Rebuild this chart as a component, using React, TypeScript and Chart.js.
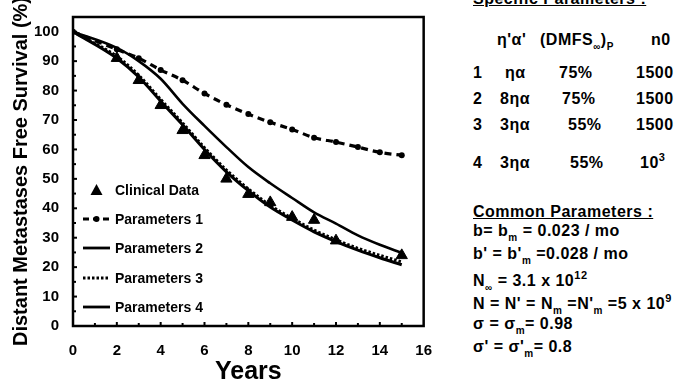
import React, { useEffect, useRef } from "react";
import { Chart, registerables } from "chart.js";

Chart.register(...registerables);

const years = [0, 2, 3, 4, 5, 6, 7, 8, 9, 10, 11, 12, 13, 14, 15];
const clinicalYears = [2, 3, 4, 5, 6, 7, 8, 9, 10, 11, 12, 15];
const clinicalData = [91, 83.5, 75, 66.5, 58, 50, 44.8, 42, 37, 36, 29, 24];
const params1 = [100, 94, 91, 87, 83.5, 79, 75.2, 72, 69.2, 66.8, 64, 62.5, 60.8, 59, 58];
const params2 = [100, 94.5, 90, 84, 75.5, 68, 60.8, 54, 48.5, 43.5, 38.6, 34.8, 30.8, 27.6, 24.8];
const params3 = [100, 91.6, 85.2, 77, 69, 60.6, 53, 46.6, 41, 36.6, 32.6, 29.3, 26.4, 24, 21.8];
const params4 = [100, 91, 84.6, 76.4, 68.4, 60, 52.4, 46, 40.4, 36, 32, 28.7, 25.8, 23.2, 20.8];
const legendLabels = ["Clinical Data", "Parameters 1", "Parameters 2", "Parameters 3", "Parameters 4"];
const xTicks = [0, 2, 4, 6, 8, 10, 12, 14, 16];
const yTicks = [0, 10, 20, 30, 40, 50, 60, 70, 80, 90, 100];

const FONT = "'Liberation Sans', Arial, sans-serif";

const pts = (xs: number[], ys: number[]) => xs.map((x, i) => ({ x, y: ys[i] }));

const framePlugin = {
  id: "frame",
  afterDraw(chart: any) {
    const { ctx, scales } = chart;
    const L = scales.x.getPixelForValue(0);
    const R = scales.x.getPixelForValue(16);
    const T = scales.y.getPixelForValue(105);
    const B = scales.y.getPixelForValue(0);
    ctx.save();
    ctx.strokeStyle = "#000";
    ctx.lineWidth = 2.5;
    ctx.setLineDash([]);
    ctx.strokeRect(L, T, R - L, B - T);
    ctx.lineWidth = 2;
    for (let v = 1; v < 16; v++) {
      const px = scales.x.getPixelForValue(v);
      ctx.beginPath();
      ctx.moveTo(px, B);
      ctx.lineTo(px, B - (v % 2 === 0 ? 4 : 3));
      ctx.stroke();
    }
    for (let v = 5; v < 105; v += 5) {
      const py = scales.y.getPixelForValue(v);
      ctx.beginPath();
      ctx.moveTo(L, py);
      ctx.lineTo(L + (v % 10 === 0 ? 4 : 3), py);
      ctx.stroke();
    }
    const lx0 = L + 10;
    const lx1 = L + 37;
    const tx = L + 42;
    const ys = [190, 219, 248, 278, 307];
    ctx.fillStyle = "#000";
    ctx.font = `bold 14px ${FONT}`;
    ctx.textBaseline = "middle";
    ctx.textAlign = "left";
    legendLabels.forEach((lab, i) => {
      const y = ys[i];
      ctx.setLineDash([]);
      if (i === 0) {
        const cx = (lx0 + lx1) / 2;
        ctx.beginPath();
        ctx.moveTo(cx, y - 6);
        ctx.lineTo(cx + 6, y + 5);
        ctx.lineTo(cx - 6, y + 5);
        ctx.closePath();
        ctx.fill();
      } else {
        ctx.lineWidth = i === 1 ? 3 : 2.8;
        if (i === 1) ctx.setLineDash([6, 4]);
        if (i === 3) ctx.setLineDash([2.5, 2]);
        ctx.beginPath();
        ctx.moveTo(lx0, y);
        ctx.lineTo(lx1, y);
        ctx.stroke();
        if (i === 1) {
          ctx.beginPath();
          ctx.arc((lx0 + lx1) / 2, y, 3, 0, Math.PI * 2);
          ctx.fill();
        }
      }
      ctx.fillText(lab, tx, y + 1);
    });
    ctx.restore();
  },
};

function ChartBox() {
  const ref = useRef<HTMLCanvasElement>(null);
  useEffect(() => {
    const chart = new Chart(ref.current!, {
      type: "line",
      data: {
        datasets: [
          {
            label: "Clinical Data",
            data: pts(clinicalYears, clinicalData),
            showLine: false,
            pointStyle: "triangle",
            pointRadius: 6.5,
            backgroundColor: "#000",
            borderColor: "#000",
            borderWidth: 1,
          },
          {
            label: "Parameters 1",
            data: pts(years, params1),
            borderColor: "#000",
            backgroundColor: "#000",
            borderWidth: 3.2,
            borderDash: [7, 5],
            pointRadius: 3,
            pointBorderWidth: 0,
            cubicInterpolationMode: "monotone",
          },
          {
            label: "Parameters 2",
            data: pts(years, params2),
            borderColor: "#000",
            borderWidth: 2.6,
            pointRadius: 0,
            cubicInterpolationMode: "monotone",
          },
          {
            label: "Parameters 3",
            data: pts(years, params3),
            borderColor: "#000",
            borderWidth: 3,
            borderDash: [2.5, 2],
            pointRadius: 0,
            cubicInterpolationMode: "monotone",
          },
          {
            label: "Parameters 4",
            data: pts(years, params4),
            borderColor: "#000",
            borderWidth: 3,
            pointRadius: 0,
            cubicInterpolationMode: "monotone",
          },
        ],
      },
      options: {
        animation: false,
        responsive: false,
        maintainAspectRatio: false,
        layout: { padding: { left: 0, top: 17, right: 16, bottom: 0 } },
        plugins: { legend: { display: false }, tooltip: { enabled: false } },
        scales: {
          x: {
            type: "linear",
            min: 0,
            max: 16,
            afterBuildTicks: (s: any) => {
              s.ticks = xTicks.map((v) => ({ value: v }));
            },
            afterFit: (s: any) => {
              s.height = 62;
            },
            grid: { display: false },
            border: { display: false },
            ticks: {
              color: "#000",
              font: { family: FONT, size: 15, weight: "bold" },
              padding: 8,
              maxRotation: 0,
            },
            title: {
              display: true,
              text: "Years",
              color: "#000",
              font: { family: FONT, size: 25, weight: "bold" },
              padding: { top: 0, bottom: 1 },
            },
          },
          y: {
            type: "linear",
            min: 0,
            max: 105,
            afterBuildTicks: (s: any) => {
              s.ticks = yTicks.map((v) => ({ value: v }));
            },
            afterFit: (s: any) => {
              s.width = 73;
            },
            grid: { display: false },
            border: { display: false },
            ticks: {
              color: "#000",
              font: { family: FONT, size: 15, weight: "bold" },
              padding: 6,
            },
            title: {
              display: true,
              text: "Distant Metastases Free Survival (%)",
              color: "#000",
              font: { family: FONT, size: 20, weight: "bold" },
              padding: { top: 9, bottom: 0 },
            },
          },
        },
      },
      plugins: [framePlugin],
    } as any);
    return () => chart.destroy();
  }, []);
  return <canvas ref={ref} width={440} height={388} style={{ position: "absolute", left: 0, top: 0 }} />;
}

const txt: React.CSSProperties = {
  position: "absolute",
  fontFamily: FONT,
  fontWeight: "bold",
  fontSize: 16,
  letterSpacing: 0.5,
  lineHeight: "18px",
  whiteSpace: "nowrap",
  color: "#000",
};

const Sub = ({ children }: { children: React.ReactNode }) => (
  <span style={{ fontSize: 10, position: "relative", top: 5 }}>{children}</span>
);
const Sup = ({ children }: { children: React.ReactNode }) => (
  <span style={{ fontSize: 11, position: "relative", top: -7 }}>{children}</span>
);

const at = (x: number, cy: number, extra: React.CSSProperties = {}): React.CSSProperties => ({
  ...txt,
  left: x,
  top: cy - 9,
  ...extra,
});

export default function App() {
  return (
    <div style={{ position: "fixed", left: 0, top: 0, width: 699, height: 388, background: "#fff", overflow: "hidden" }}>
      <ChartBox />
      <div style={at(473, -1, { textDecoration: "underline" })}>Specific Parameters :</div>
      <div style={at(497, 40)}>η'α'</div>
      <div style={at(540, 40)}>
        (DMFS<Sub>∞</Sub>)<Sub>P</Sub>
      </div>
      <div style={at(651, 40)}>n0</div>

      <div style={at(473, 73)}>1</div>
      <div style={at(505, 73)}>ηα</div>
      <div style={at(559, 73)}>75%</div>
      <div style={at(636, 73)}>1500</div>

      <div style={at(473, 99)}>2</div>
      <div style={at(500, 99)}>8ηα</div>
      <div style={at(562, 99)}>75%</div>
      <div style={at(636, 99)}>1500</div>

      <div style={at(473, 125)}>3</div>
      <div style={at(500, 125)}>3ηα</div>
      <div style={at(568, 125)}>55%</div>
      <div style={at(636, 125)}>1500</div>

      <div style={at(473, 163)}>4</div>
      <div style={at(500, 163)}>3ηα</div>
      <div style={at(570, 163)}>55%</div>
      <div style={at(640, 163)}>
        10<Sup>3</Sup>
      </div>

      <div style={at(473, 212, { textDecoration: "underline" })}>Common Parameters :</div>
      <div style={at(473, 231)}>
        b= b<Sub>m</Sub> = 0.023 / mo
      </div>
      <div style={at(473, 254)}>
        b' = b'<Sub>m</Sub> =0.028 / mo
      </div>
      <div style={at(473, 281)}>
        N<Sub>∞</Sub> = 3.1 x 10<Sup>12</Sup>
      </div>
      <div style={at(473, 304)}>
        N = N' = N<Sub>m</Sub> =N'<Sub>m</Sub> =5 x 10<Sup>9</Sup>
      </div>
      <div style={at(473, 324)}>
        σ = σ<Sub>m</Sub>= 0.98
      </div>
      <div style={at(473, 347)}>
        σ' = σ'<Sub>m</Sub>= 0.8
      </div>
    </div>
  );
}
